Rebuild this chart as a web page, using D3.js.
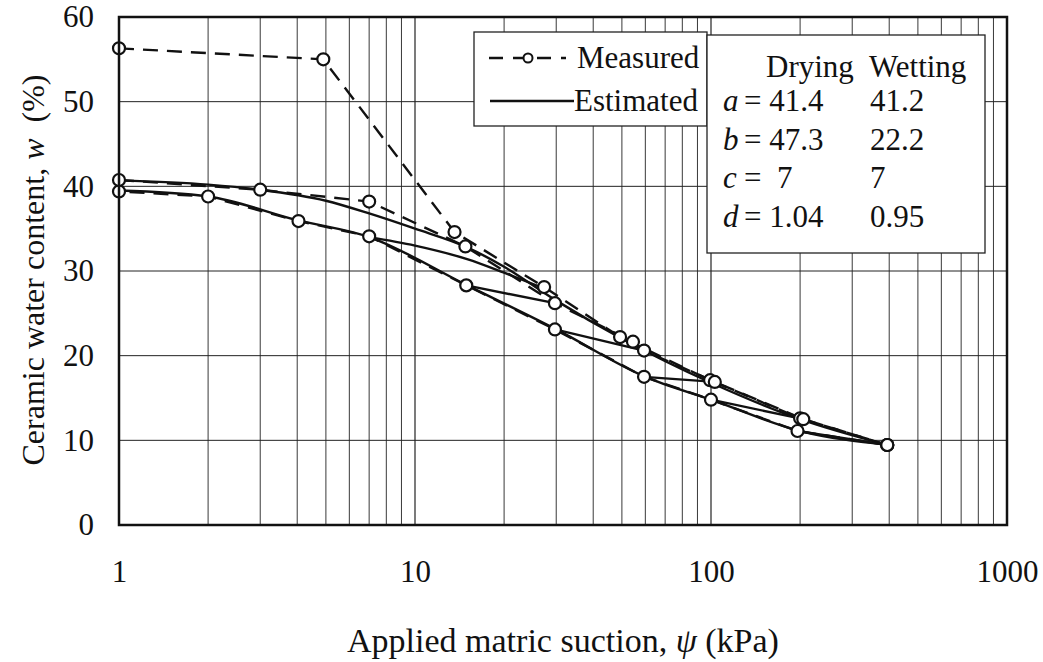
<!DOCTYPE html>
<html>
<head>
<meta charset="utf-8">
<script src="https://cdn.jsdelivr.net/npm/d3@7"></script>
<style>
  body { margin: 0; background: #fff; }
  text { font-family: "Liberation Serif", "DejaVu Serif", serif; fill: #111; }
</style>
</head>
<body>
<svg width="1043" height="662"></svg>
<script>
// measured points [suction kPa, water content %]
var measuredDrying1 = [[1,56.3],[4.9,55.0],[13.6,34.6],[27.3,28.1],[49.3,22.2],[99.3,17.1],[200,12.6],[394,9.45]];
var measuredWetting = [[394,9.45],[196,11.1],[100,14.8],[59.4,17.5],[29.7,23.1],[14.9,28.3],[7.0,34.1],[4.04,35.9],[2.0,38.8],[1,39.4]];
var measuredDrying2 = [[1,40.75],[3.0,39.6],[7.0,38.2],[14.8,32.9],[29.7,26.2],[54.5,21.65],[59.4,20.6],[103,16.9],[205,12.5],[394,9.45]];

// estimated curves
var estDrying = [[1,40.7],[2,40.2],[3,39.6],[5,38.3],[7,36.8],[10,35.0],[15,32.8],[20,30.5],[30,26.5],[50,22.0],[100,16.8],[200,12.5],[400,9.4]];
var estWetting = [[1,39.5],[2,38.8],[4,36.0],[7,34.0],[15,28.3],[30,23.1],[60,17.5],[100,14.8],[200,11.1],[400,9.45]];
var estScan = [[7,34.0],[10,33.0],[15,31.4],[20,29.8],[27.5,27.9]];
var scanPairs = [
  [[14.9,28.3],[29.7,26.2]],
  [[29.7,23.1],[59.4,20.6]],
  [[59.4,17.5],[103,16.9]],
  [[100,14.8],[205,12.5]],
  [[196,11.1],[394,9.45]]
];

var xTicks = [1, 10, 100, 1000];
var yTicks = [0, 10, 20, 30, 40, 50, 60];
var paramRows = [["a", "41.4", "41.2"], ["b", "47.3", "22.2"], ["c", " 7", "7"], ["d", "1.04", "0.95"]];

function main(){
    var svg = d3.select("svg");
    var left = 119, top = 17, width = 888, height = 508;

    var xScale = d3.scaleLog().domain([1, 1000]).range([0, width]),
        yScale = d3.scaleLinear().domain([0, 60]).range([height, 0]);

    var g = svg.append("g").attr("transform", "translate(" + left + "," + top + ")");

    // minor grid lines
    var minor = [];
    [1, 10, 100].forEach(function(dec){
        for (var k = 1; k < 10; k++) minor.push(dec * k);
    });
    minor.push(1000);

    g.selectAll(".vgrid").data(minor).enter().append("line")
        .attr("x1", function(d){ return xScale(d); })
        .attr("x2", function(d){ return xScale(d); })
        .attr("y1", 0).attr("y2", height)
        .attr("stroke", "#222").attr("stroke-width", function(d){ return xTicks.indexOf(d) >= 0 ? 1.2 : 0.9; });

    g.selectAll(".hgrid").data(yTicks).enter().append("line")
        .attr("x1", 0).attr("x2", width)
        .attr("y1", function(d){ return yScale(d); })
        .attr("y2", function(d){ return yScale(d); })
        .attr("stroke", "#222").attr("stroke-width", 1);

    // axes labels
    var xAxis = g.append("g").attr("transform", "translate(0," + height + ")")
        .call(d3.axisBottom(xScale).tickValues(xTicks).tickFormat(d3.format("d")).tickSize(0).tickPadding(0));
    xAxis.select(".domain").remove();
    xAxis.selectAll("text").attr("font-size", 31).attr("font-family", "Liberation Serif").attr("fill", "#111")
        .attr("dy", null).attr("y", 57);

    var yAxis = g.append("g")
        .call(d3.axisLeft(yScale).tickValues(yTicks).tickSize(0).tickPadding(25));
    yAxis.select(".domain").remove();
    yAxis.selectAll("text").attr("font-size", 31).attr("font-family", "Liberation Serif").attr("fill", "#111");

    var line = d3.line()
        .x(function(d){ return xScale(d[0]); })
        .y(function(d){ return yScale(d[1]); });
    var curve = d3.line().curve(d3.curveMonotoneX)
        .x(function(d){ return xScale(d[0]); })
        .y(function(d){ return yScale(d[1]); });

    // estimated (solid)
    [estDrying, estWetting, estScan].forEach(function(s){
        g.append("path").attr("d", curve(s))
            .attr("fill", "none").attr("stroke", "#111").attr("stroke-width", 2.4);
    });
    scanPairs.forEach(function(s){
        g.append("path").attr("d", line(s))
            .attr("fill", "none").attr("stroke", "#111").attr("stroke-width", 2.4);
    });

    // measured (dashed)
    var measured = [measuredDrying1, measuredWetting, measuredDrying2];
    measured.forEach(function(s){
        g.append("path").attr("d", line(s))
            .attr("fill", "none").attr("stroke", "#111").attr("stroke-width", 2.4)
            .attr("stroke-dasharray", "15,9");
    });
    measured.forEach(function(s){
        g.selectAll(null).data(s).enter().append("circle")
            .attr("cx", function(d){ return xScale(d[0]); })
            .attr("cy", function(d){ return yScale(d[1]); })
            .attr("r", 6)
            .attr("fill", "#fff").attr("stroke", "#111").attr("stroke-width", 2.2);
    });

    // frame
    g.append("rect").attr("width", width).attr("height", height)
        .attr("fill", "none").attr("stroke", "#111").attr("stroke-width", 2.5);

    // legend
    var lg = svg.append("g");
    lg.append("rect").attr("x", 474).attr("y", 32).attr("width", 233).attr("height", 94)
        .attr("fill", "#fff").attr("stroke", "#222").attr("stroke-width", 1.3);
    lg.append("line").attr("x1", 489).attr("x2", 566).attr("y1", 58).attr("y2", 58)
        .attr("stroke", "#111").attr("stroke-width", 2.4).attr("stroke-dasharray", "14,10");
    lg.append("circle").attr("cx", 528).attr("cy", 58).attr("r", 4.5)
        .attr("fill", "#fff").attr("stroke", "#111").attr("stroke-width", 2);
    lg.append("text").attr("x", 577).attr("y", 68).attr("font-size", 31).text("Measured");
    lg.append("line").attr("x1", 490).attr("x2", 574).attr("y1", 101).attr("y2", 101)
        .attr("stroke", "#111").attr("stroke-width", 2.4);
    lg.append("text").attr("x", 574).attr("y", 111).attr("font-size", 31).text("Estimated");

    // parameter box
    var pb = svg.append("g");
    pb.append("rect").attr("x", 707).attr("y", 35).attr("width", 278).attr("height", 218)
        .attr("fill", "#fff").attr("stroke", "#222").attr("stroke-width", 1.3);
    pb.append("text").attr("x", 766).attr("y", 77).attr("font-size", 31).text("Drying");
    pb.append("text").attr("x", 869).attr("y", 77).attr("font-size", 31).text("Wetting");
    pb.selectAll(".prow").data(paramRows).enter().append("g")
        .each(function(d, i){
            var y = 111 + i * 38.5;
            var r = d3.select(this);
            r.append("text").attr("x", 723).attr("y", y).attr("font-size", 31)
                .attr("font-style", "italic").text(d[0]);
            r.append("text").attr("x", 744).attr("y", y).attr("font-size", 31)
                .attr("xml:space", "preserve").text("= " + d[1]);
            r.append("text").attr("x", 870).attr("y", y).attr("font-size", 31).text(d[2]);
        });

    // axis titles
    var xt = svg.append("text").attr("x", 563).attr("y", 652).attr("text-anchor", "middle").attr("font-size", 34);
    xt.append("tspan").text("Applied matric suction, ");
    xt.append("tspan").attr("font-style", "italic").text("\u03C8");
    xt.append("tspan").text(" (kPa)");

    var yt = svg.append("text").attr("transform", "translate(44,270) rotate(-90)")
        .attr("text-anchor", "middle").attr("font-size", 32);
    yt.append("tspan").text("Ceramic water content, ");
    yt.append("tspan").attr("font-style", "italic").text("w");
    yt.append("tspan").attr("xml:space", "preserve").text("  (%)");
}
main();
</script>
</body>
</html>
